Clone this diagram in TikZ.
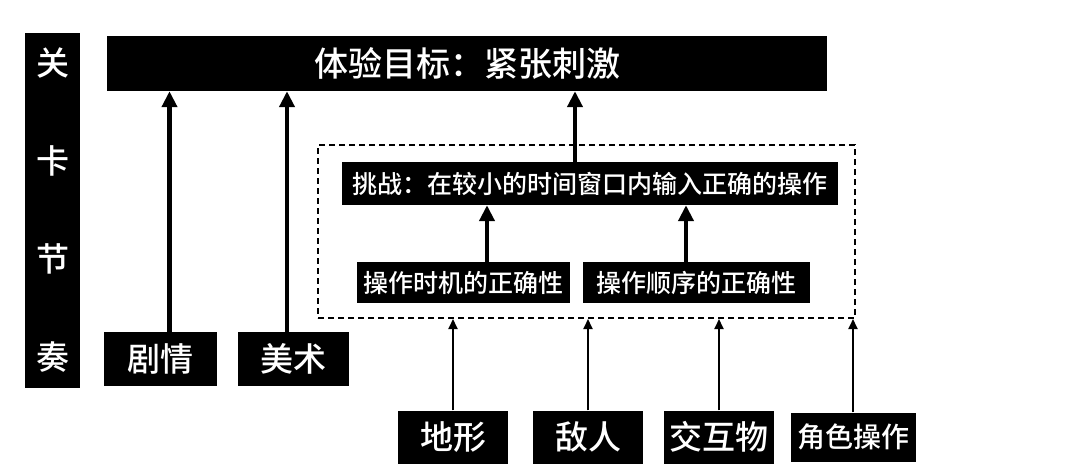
\documentclass[tikz,border=0pt]{standalone}
\usepackage{fontspec}
\setmainfont{Noto Sans CJK SC}[BoldFont={Noto Sans CJK SC Medium}]
\usetikzlibrary{arrows.meta}

\begin{document}
\begin{tikzpicture}[x=1pt, y=-1pt,
        blk/.style={fill=black, text=white, inner sep=0pt, font=\bfseries\fontsize{33}{33}\selectfont},
        midblk/.style={blk, font=\bfseries\fontsize{25}{25}\selectfont},
        bigarrow/.style={line width=4.5pt, -{Triangle[width=15pt,length=16pt]}},
        smallarrow/.style={line width=1.8pt, -{Triangle[width=9pt,length=10pt]}}]
    \useasboundingbox (0,0) rectangle (1080,466);

    \node[blk, minimum width=55pt, minimum height=355pt, align=center, font=\bfseries\fontsize{33}{98}\selectfont] (bar) at (52.5, 210.5) {关\\卡\\节\\奏};
    \node[blk, minimum width=720pt, minimum height=55pt, font=\bfseries\fontsize{34}{34}\selectfont] (goal) at (467, 63.5) {体验目标：紧张刺激};
    \node[blk, minimum width=113pt, minimum height=54pt] (plot) at (160.5, 359) {剧情};
    \node[blk, minimum width=111pt, minimum height=54pt] (art) at (293.5, 359) {美术};

    \node[draw, dash pattern=on 6pt off 4pt, line width=2pt, minimum width=537pt, minimum height=173pt] (frame) at (586.5, 231.5) {};
    \node[midblk, minimum width=496pt, minimum height=43pt] (challenge) at (590, 183.5) {挑战：在较小的时间窗口内输入正确的操作};
    \node[midblk, minimum width=213pt, minimum height=41pt] (timing) at (463.5, 282.5) {操作时机的正确性};
    \node[midblk, minimum width=227pt, minimum height=41pt] (order) at (696.5, 282.5) {操作顺序的正确性};

    \node[blk, minimum width=110pt, minimum height=53pt] (terrain) at (453, 437) {地形};
    \node[blk, minimum width=110pt, minimum height=53pt] (enemy) at (588, 437) {敌人};
    \node[blk, minimum width=110pt, minimum height=53pt] (prop) at (719, 437) {交互物};
    \node[blk, minimum width=125pt, minimum height=49pt, font=\bfseries\fontsize{28}{28}\selectfont] (control) at (853, 437) {角色操作};

    \draw[bigarrow] ([xshift=9pt]plot.north) -- ([xshift=9pt]plot.north |- goal.south);
    \draw[bigarrow] ([xshift=-6.5pt]art.north) -- ([xshift=-6.5pt]art.north |- goal.south);
    \draw[bigarrow] ([xshift=-15pt]challenge.north) -- ([xshift=-15pt]challenge.north |- goal.south);
    \draw[bigarrow] ([xshift=23.5pt]timing.north) -- ([xshift=23.5pt]timing.north |- challenge.south);
    \draw[bigarrow] ([xshift=-10.5pt]order.north) -- ([xshift=-10.5pt]order.north |- challenge.south);

    \draw[smallarrow] (terrain.north) -- (terrain.north |- frame.south);
    \draw[smallarrow] (enemy.north) -- (enemy.north |- frame.south);
    \draw[smallarrow] (prop.north) -- (prop.north |- frame.south);
    \draw[smallarrow] (control.north) -- (control.north |- frame.south);
\end{tikzpicture}
\end{document}
